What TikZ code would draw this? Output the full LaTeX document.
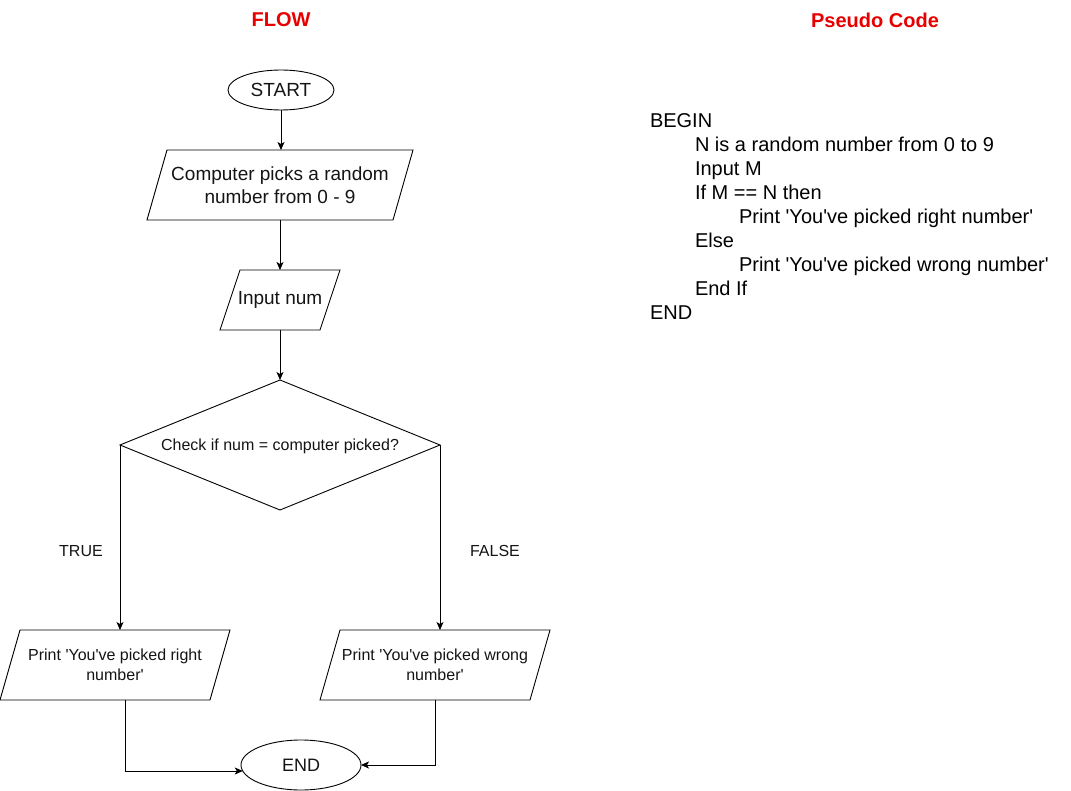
\documentclass[tikz,border=0pt]{standalone}
\usepackage{fontspec}
\setmainfont{Liberation Sans}
\usetikzlibrary{shapes.geometric,arrows.meta,calc}
\definecolor{titlered}{RGB}{230,0,0}
\definecolor{txt}{RGB}{20,20,20}
\newcommand{\sq}{\textquotesingle}
\newcommand{\drawpara}[2]{%
  \draw[line] ($(#1.north west)+(#2,0)$) -- (#1.north east) -- ($(#1.south east)+(-#2,0)$) -- (#1.south west) -- cycle;}
\begin{document}
\begin{tikzpicture}[x=1pt,y=-1pt,
  every node/.style={inner sep=0pt, outer sep=0pt, text=txt},
  line/.style={line width=0.9pt, draw=black},
  arr/.style={line, -{Stealth[length=8pt,width=7pt,inset=2pt]}},
  title/.style={font=\fontsize{20}{24}\selectfont\bfseries, text=titlered},
  big/.style={font=\fontsize{19}{23}\selectfont, align=center},
  small/.style={font=\fontsize{16}{19.5}\selectfont, align=center},
  code/.style={font=\fontsize{20}{24}\selectfont, anchor=base west, text=black},
  term/.style={ellipse, line},
  decision/.style={diamond, line, aspect=2.46},
]
\useasboundingbox (0,0) rectangle (1071,791);

% titles
\node[title] (tflow) at (281,20) {FLOW};
\node[title] (tcode) at (875,20) {Pseudo Code};

% flow nodes
\node[term, minimum width=106pt, minimum height=40pt, font=\fontsize{19}{23}\selectfont] (start) at (281,90) {START};
\node[big, minimum width=266pt, minimum height=70pt] (p1) at (280,185) {Computer picks a random\\number from 0 - 9};
\drawpara{p1}{20}
\node[big, minimum width=120pt, minimum height=60pt] (in) at (280,300) {Input num};
\drawpara{in}{20}
\node[decision, minimum width=320pt, minimum height=130pt] (dec) at (280,445) {};
\node[small] (dect) at (280,446) {Check if num = computer picked?};
\node[small, minimum width=230pt, minimum height=70pt] (pr) at (115,665) {Print \sq You\sq ve picked right\\number\sq};
\drawpara{pr}{20}
\node[small, minimum width=230pt, minimum height=70pt] (pw) at (435,665) {Print \sq You\sq ve picked wrong\\number\sq};
\drawpara{pw}{20}
\node[term, minimum width=120pt, minimum height=50pt, font=\fontsize{18}{22}\selectfont] (e) at (301,765) {END};

% labels
\node[small] (ltrue) at (81,551) {TRUE};
\node[small] (lfalse) at (495,551) {FALSE};

% connectors
\draw[arr] (start.south) -- (start.south |- p1.north);
\draw[arr] (p1.south) -- (in.north);
\draw[arr] (in.south) -- (dec.north);
\draw[arr] (dec.west) -- (dec.west |- pr.north);
\draw[arr] (dec.east) -- (dec.east |- pw.north);
\draw[arr] ([xshift=10pt]pr.south) |- ([xshift=1.8pt,yshift=-6pt]e.west);
\draw[arr] (pw.south) |- (e.east);

% pseudo code
\node[code] (c1) at (650,128) {BEGIN};
\node[code] (c2) at (695,152) {N is a random number from 0 to 9};
\node[code] (c3) at (695,176) {Input M};
\node[code] (c4) at (695,200) {If M == N then};
\node[code] (c5) at (739,224) {Print \sq You\sq ve picked right number\sq};
\node[code] (c6) at (695,248) {Else};
\node[code] (c7) at (739,272) {Print \sq You\sq ve picked wrong number\sq};
\node[code] (c8) at (695,296) {End If};
\node[code] (c9) at (650,320) {END};
\end{tikzpicture}
\end{document}
